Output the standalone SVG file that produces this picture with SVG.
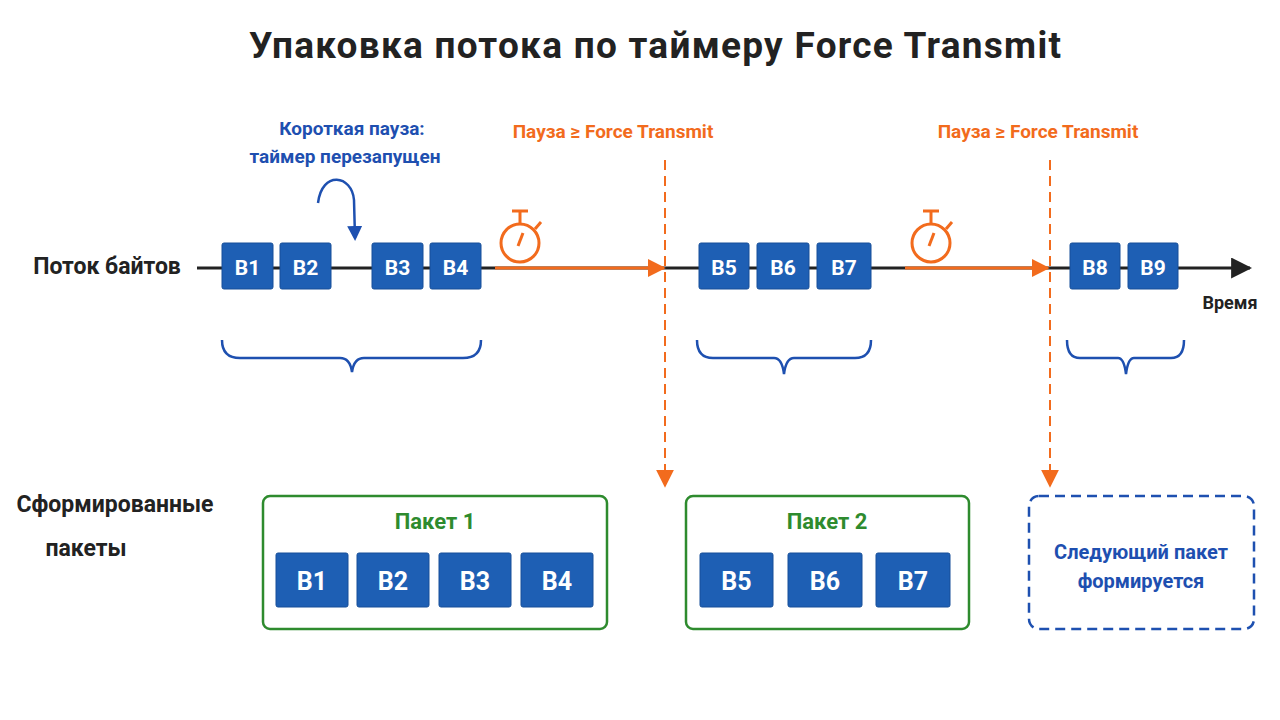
<svg xmlns="http://www.w3.org/2000/svg" width="1280" height="720" viewBox="0 0 1280 720">
<style>
text{font-family:"Roboto","Liberation Sans",sans-serif;font-weight:bold}
.blk{fill:#1e5fb4;stroke:#174f99;stroke-width:1}
.bt{fill:#fff;font-size:21px;text-anchor:middle}
.bt2{fill:#fff;font-size:25px;text-anchor:middle}
.or{stroke:#f26b1d;fill:none}
.brace{stroke:#1e50b0;stroke-width:2.5;fill:none}
</style>
<defs>
<marker id="ao" viewBox="0 0 10 10" refX="9" refY="5" markerWidth="6" markerHeight="6" orient="auto"><path d="M0,0L10,5L0,10z" fill="#f26b1d"/></marker>
<marker id="ad" viewBox="0 0 10 10" refX="9" refY="5" markerWidth="9" markerHeight="9" orient="auto"><path d="M0,0L10,5L0,10z" fill="#f26b1d"/></marker>
<marker id="ak" viewBox="0 0 10 10" refX="9" refY="5" markerWidth="7" markerHeight="7" orient="auto"><path d="M0,0L10,5L0,10z" fill="#222"/></marker>
<marker id="ab" viewBox="0 0 10 10" refX="8" refY="5" markerWidth="6" markerHeight="6" orient="auto"><path d="M0,0L10,5L0,10z" fill="#1e50b0"/></marker>
</defs>
<rect width="1280" height="720" fill="#fff"/>
<text x="655" y="58" font-size="37" text-anchor="middle" fill="#222" textLength="812">Упаковка потока по таймеру Force Transmit</text>
<text x="107" y="274" font-size="23" text-anchor="middle" fill="#222">Поток байтов</text>
<text x="115" y="512" font-size="23" text-anchor="middle" fill="#222">Сформированные</text>
<text x="86" y="556" font-size="23" text-anchor="middle" fill="#222">пакеты</text>
<text x="1230" y="309" font-size="18" text-anchor="middle" fill="#222">Время</text>
<text x="352" y="135" font-size="19" text-anchor="middle" fill="#1e4fb0">Короткая пауза:</text>
<text x="345" y="163" font-size="19" text-anchor="middle" fill="#1e4fb0">таймер перезапущен</text>
<text x="613" y="138" font-size="19" text-anchor="middle" fill="#f26b1d">Пауза ≥ Force Transmit</text>
<text x="1038" y="138" font-size="19" text-anchor="middle" fill="#f26b1d">Пауза ≥ Force Transmit</text>
<g id="connectors">
<line x1="197" y1="268" x2="1250" y2="268" stroke="#222" stroke-width="3" marker-end="url(#ak)"/>
<line x1="495" y1="268" x2="664" y2="268" class="or" stroke-width="3" marker-end="url(#ao)"/>
<line x1="905" y1="268" x2="1048" y2="268" class="or" stroke-width="3" marker-end="url(#ao)"/>
<line x1="665" y1="160" x2="665" y2="486" class="or" stroke-width="2" stroke-dasharray="10,6" marker-end="url(#ad)"/>
<line x1="1050" y1="160" x2="1050" y2="486" class="or" stroke-width="2" stroke-dasharray="10,6" marker-end="url(#ad)"/>
<path d="M318,203 C322,170 352,175 354,200 L355,238" stroke="#1e50b0" stroke-width="2.5" fill="none" marker-end="url(#ab)"/>
</g>
<g id="stopwatches" stroke="#f26b1d" stroke-width="3" fill="#fff">
<circle cx="520" cy="243" r="19"/><line x1="520" y1="224" x2="520" y2="212"/><line x1="512" y1="211" x2="528" y2="211"/><line x1="535" y1="229" x2="541" y2="222"/><line x1="518" y1="246" x2="523" y2="233"/>
<circle cx="931" cy="243" r="19"/><line x1="931" y1="224" x2="931" y2="212"/><line x1="923" y1="211" x2="939" y2="211"/><line x1="946" y1="229" x2="952" y2="222"/><line x1="929" y1="246" x2="934" y2="233"/>
</g>
<g id="stream">
<rect class="blk" x="222" y="243" width="51" height="46" rx="2"/><text class="bt" x="247.5" y="275">B1</text>
<rect class="blk" x="280" y="243" width="51" height="46" rx="2"/><text class="bt" x="305.5" y="275">B2</text>
<rect class="blk" x="372" y="243" width="51" height="46" rx="2"/><text class="bt" x="397.5" y="275">B3</text>
<rect class="blk" x="430" y="243" width="51" height="46" rx="2"/><text class="bt" x="455.5" y="275">B4</text>
<rect class="blk" x="699" y="243" width="50" height="46" rx="2"/><text class="bt" x="724" y="275">B5</text>
<rect class="blk" x="757" y="243" width="52" height="46" rx="2"/><text class="bt" x="783" y="275">B6</text>
<rect class="blk" x="817" y="243" width="54" height="46" rx="2"/><text class="bt" x="844" y="275">B7</text>
<rect class="blk" x="1070" y="243" width="50" height="46" rx="2"/><text class="bt" x="1095" y="275">B8</text>
<rect class="blk" x="1128" y="243" width="50" height="46" rx="2"/><text class="bt" x="1153" y="275">B9</text>
</g>
<g id="braces">
<path class="brace" d="M222,340 Q222,358 240,358 L340,358 Q350,358 352,372 Q354,358 364,358 L463,358 Q481,358 481,340"/>
<path class="brace" d="M697,340 Q697,358 713,358 L774,358 Q782,358 784,374 Q786,358 794,358 L855,358 Q871,358 871,340"/>
<path class="brace" d="M1067,340 Q1067,358 1080,358 L1118,358 Q1124,358 1126,374 Q1128,358 1134,358 L1171,358 Q1184,358 1184,340"/>
</g>
<g id="packet1">
<rect x="263" y="496" width="344" height="133" rx="7" fill="#fff" stroke="#2e8b2e" stroke-width="2.5"/>
<text x="435" y="529" font-size="22" text-anchor="middle" fill="#2e8b2e">Пакет 1</text>
<rect class="blk" x="276" y="553" width="72" height="54" rx="2"/><text class="bt2" x="312" y="590">B1</text>
<rect class="blk" x="357" y="553" width="72" height="54" rx="2"/><text class="bt2" x="393" y="590">B2</text>
<rect class="blk" x="439" y="553" width="72" height="54" rx="2"/><text class="bt2" x="475" y="590">B3</text>
<rect class="blk" x="521" y="553" width="72" height="54" rx="2"/><text class="bt2" x="557" y="590">B4</text>
</g>
<g id="packet2">
<rect x="686" y="496" width="283" height="133" rx="7" fill="#fff" stroke="#2e8b2e" stroke-width="2.5"/>
<text x="827" y="529" font-size="22" text-anchor="middle" fill="#2e8b2e">Пакет 2</text>
<rect class="blk" x="700" y="553" width="73" height="54" rx="2"/><text class="bt2" x="736.5" y="590">B5</text>
<rect class="blk" x="788" y="553" width="74" height="54" rx="2"/><text class="bt2" x="825" y="590">B6</text>
<rect class="blk" x="876" y="553" width="74" height="54" rx="2"/><text class="bt2" x="913" y="590">B7</text>
</g>
<g id="next">
<rect x="1029" y="496" width="225" height="133" rx="10" fill="#fff" stroke="#1e50b0" stroke-width="2.5" stroke-dasharray="10,6"/>
<text x="1141" y="559" font-size="20" text-anchor="middle" fill="#1e4fb0">Следующий пакет</text>
<text x="1141" y="588" font-size="20" text-anchor="middle" fill="#1e4fb0">формируется</text>
</g>
</svg>
